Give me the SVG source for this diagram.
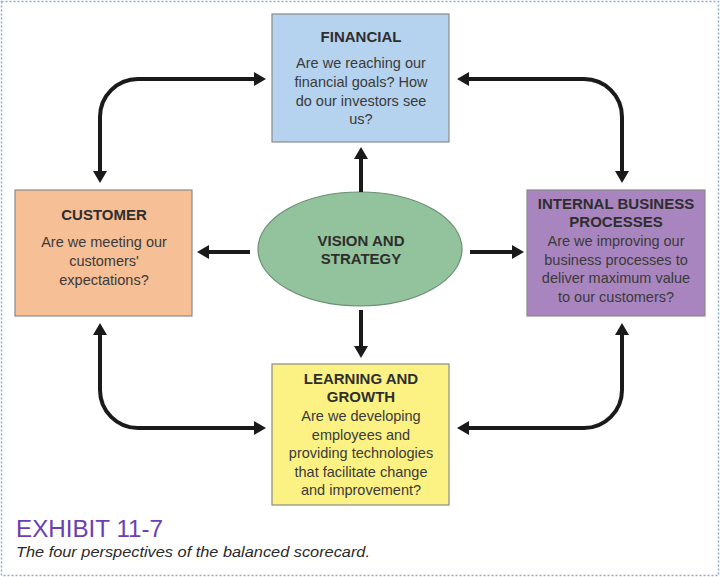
<svg xmlns="http://www.w3.org/2000/svg" width="720" height="577" viewBox="0 0 720 577">
<defs>
<marker id="ah" viewBox="0 0 12 14" refX="0" refY="7" markerWidth="12" markerHeight="14" markerUnits="userSpaceOnUse" orient="auto-start-reverse">
<path d="M0,0 L12,7 L0,14 z" fill="#1a1a1a"/>
</marker>
<style>
.box{stroke:#8a8a8a;stroke-width:1.2}
.t{font-family:"Liberation Sans",Arial,sans-serif;font-size:15px;font-weight:bold;fill:#2e2e2e;text-anchor:middle}
.b{font-family:"Liberation Sans",Arial,sans-serif;font-size:14.5px;fill:#3a3a3a;text-anchor:middle}
.c{fill:none;stroke:#1a1a1a;stroke-width:4}
</style>
</defs>
<rect x="0" y="0" width="720" height="577" fill="#ffffff"/>
<rect x="1.5" y="1.5" width="717" height="574" fill="none" stroke="#8fabc7" stroke-width="1.5" stroke-dasharray="2,2"/>

<g id="financial">
<rect class="box" x="272" y="14" width="177" height="128" fill="#b5d3ee"/>
<text class="t" x="361" y="42">FINANCIAL</text>
<text class="b" x="361" y="68">Are we reaching our</text>
<text class="b" x="361" y="87">financial goals? How</text>
<text class="b" x="361" y="106">do our investors see</text>
<text class="b" x="361" y="124">us?</text>
</g>

<g id="customer">
<rect class="box" x="15" y="190" width="177" height="126" fill="#f7bf95"/>
<text class="t" x="104" y="220">CUSTOMER</text>
<text class="b" x="104" y="247">Are we meeting our</text>
<text class="b" x="104" y="266">customers'</text>
<text class="b" x="104" y="285">expectations?</text>
</g>

<g id="internal">
<rect class="box" x="527" y="190" width="178" height="126" fill="#a985bf"/>
<text class="t" x="616" y="209">INTERNAL BUSINESS</text>
<text class="t" x="616" y="227">PROCESSES</text>
<text class="b" x="616" y="246">Are we improving our</text>
<text class="b" x="616" y="265">business processes to</text>
<text class="b" x="616" y="283">deliver maximum value</text>
<text class="b" x="616" y="302">to our customers?</text>
</g>

<g id="learning">
<rect class="box" x="272" y="364" width="177" height="141" fill="#fcf284"/>
<text class="t" x="361" y="384">LEARNING AND</text>
<text class="t" x="361" y="402">GROWTH</text>
<text class="b" x="361" y="421">Are we developing</text>
<text class="b" x="361" y="440">employees and</text>
<text class="b" x="361" y="458">providing technologies</text>
<text class="b" x="361" y="477">that facilitate change</text>
<text class="b" x="361" y="495">and improvement?</text>
</g>

<g id="vision">
<ellipse cx="360" cy="249" rx="102" ry="57" fill="#93c39c" stroke="#6b8f72" stroke-width="1.2"/>
<text class="t" x="361" y="246">VISION AND</text>
<text class="t" x="361" y="264">STRATEGY</text>
</g>

<g id="connectors">
<path class="c" d="M100,171 V117 A38,38 0 0 1 138,79 H254" marker-start="url(#ah)" marker-end="url(#ah)"/>
<path class="c" d="M469,79 H584 A38,38 0 0 1 622,117 V171" marker-start="url(#ah)" marker-end="url(#ah)"/>
<path class="c" d="M100,335 V390 A38,38 0 0 0 138,428 H254" marker-start="url(#ah)" marker-end="url(#ah)"/>
<path class="c" d="M622,335 V390 A38,38 0 0 1 584,428 H469" marker-start="url(#ah)" marker-end="url(#ah)"/>
<path class="c" d="M361,192 V159" marker-end="url(#ah)"/>
<path class="c" d="M250,252 H209" marker-end="url(#ah)"/>
<path class="c" d="M470,252 H512" marker-end="url(#ah)"/>
<path class="c" d="M361,310 V346" marker-end="url(#ah)"/>
</g>

<text x="16" y="537" font-family="'Liberation Sans',Arial,sans-serif" font-size="23" fill="#6a3fb4" textLength="147" lengthAdjust="spacingAndGlyphs">EXHIBIT 11-7</text>
<text x="16" y="557" font-family="'Liberation Sans',Arial,sans-serif" font-size="15" font-style="italic" fill="#2a2a2a" textLength="354" lengthAdjust="spacingAndGlyphs">The four perspectives of the balanced scorecard.</text>
</svg>
